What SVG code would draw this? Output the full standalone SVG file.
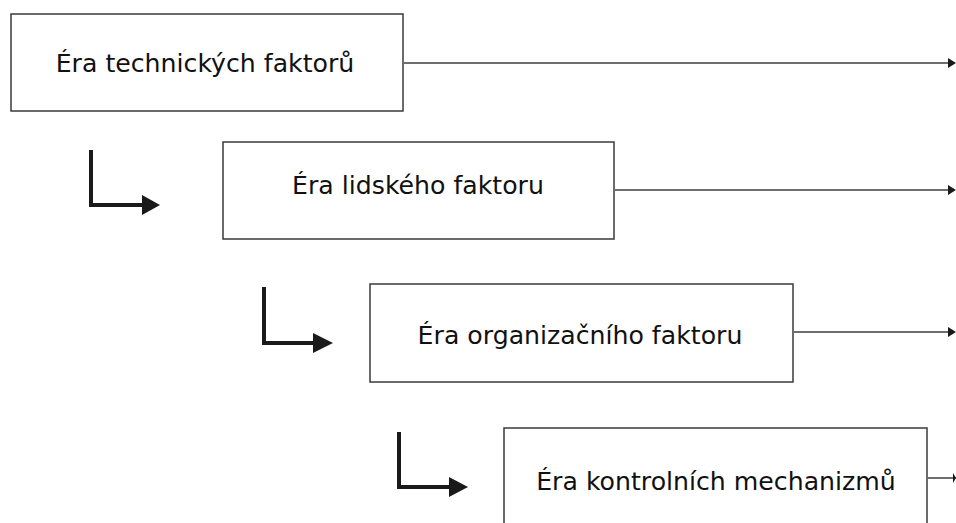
<svg xmlns="http://www.w3.org/2000/svg" width="956" height="523" viewBox="0 0 956 523">
<defs>
<style>
.box{fill:#fff;stroke:#3a3a3a;stroke-width:1.5}
.lbl{font-family:"DejaVu Sans",Verdana,sans-serif;font-size:25.2px;fill:#111;text-anchor:middle}
.out{stroke:#6e6e6e;stroke-width:2;fill:none}
.bend{stroke:#1a1a1a;stroke-width:4;fill:none;stroke-linecap:square}
.head{fill:#1a1a1a}
</style>
</defs>
<rect width="956" height="523" fill="#fff"/>
<g id="n1"><rect class="box" x="11" y="14" width="392" height="97"/><text class="lbl" x="205" y="72">Éra technických faktorů</text></g>
<g id="n2"><rect class="box" x="223" y="142" width="391" height="97"/><text class="lbl" x="418" y="194">Éra lidského faktoru</text></g>
<g id="n3"><rect class="box" x="370" y="284" width="423" height="98"/><text class="lbl" x="580" y="344">Éra organizačního faktoru</text></g>
<g id="n4"><rect class="box" x="504" y="428" width="423" height="110"/><text class="lbl" x="716" y="490">Éra kontrolních mechanizmů</text></g>
<g id="connectors">
<line class="out" x1="403" y1="63" x2="949" y2="63"/><polygon class="head" points="948,58 956,63 948,68"/>
<line class="out" x1="614" y1="190" x2="949" y2="190"/><polygon class="head" points="948,185 956,190 948,195"/>
<line class="out" x1="793" y1="332" x2="949" y2="332"/><polygon class="head" points="948,327 956,332 948,337"/>
<line class="out" x1="927" y1="478" x2="956" y2="478"/><polygon class="head" points="953,473 956,478 953,483"/>
<polyline class="bend" points="91,152 91,205 144,205"/><polygon class="head" points="142,195 160,205 142,215"/>
<polyline class="bend" points="264,289 264,343 315,343"/><polygon class="head" points="313,333 333,343 313,353"/>
<polyline class="bend" points="399,434 399,487 451,487"/><polygon class="head" points="449,477 468,487 449,497"/>
</g>
</svg>
